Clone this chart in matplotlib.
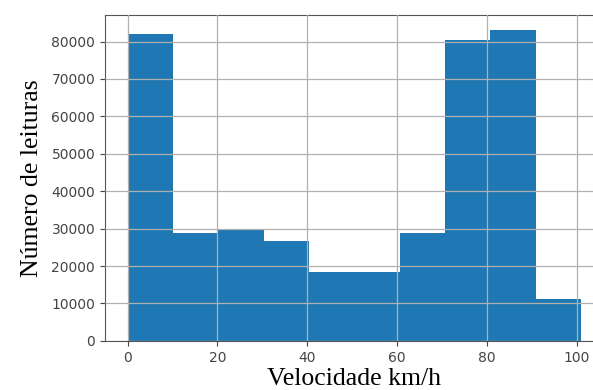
import numpy as np
import matplotlib.pyplot as plt

# Histogram of speeds: 10 bins between 0 and 101 km/h
bin_edges = np.linspace(0, 101, 11)
counts = [81900, 28800, 29500, 26600, 18300, 18300, 28700, 80500, 83000, 11100]

fig = plt.figure(figsize=(5.93, 3.9), dpi=100)
ax = fig.add_axes([0.177, 0.126, 0.841, 0.836])

ax.hist(bin_edges[:-1], bins=bin_edges, weights=counts, color='#1f77b4')
ax.grid(True, color='#b0b0b0', linewidth=0.9)
ax.set_axisbelow(False)

ax.set_xticks([0, 20, 40, 60, 80, 100])
ax.set_yticks(np.arange(0, 80001, 10000))
ax.tick_params(labelsize=10, labelcolor='#444444', color='#444444')
for s in ax.spines.values():
    s.set_color('#555555')

ax.set_xlabel('Velocidade km/h', fontsize=18.5, family='Liberation Serif', labelpad=2.5)
ax.set_ylabel('Número de leituras', fontsize=18.5, family='Liberation Serif', labelpad=6)

fig.savefig('out.png', dpi=100)
